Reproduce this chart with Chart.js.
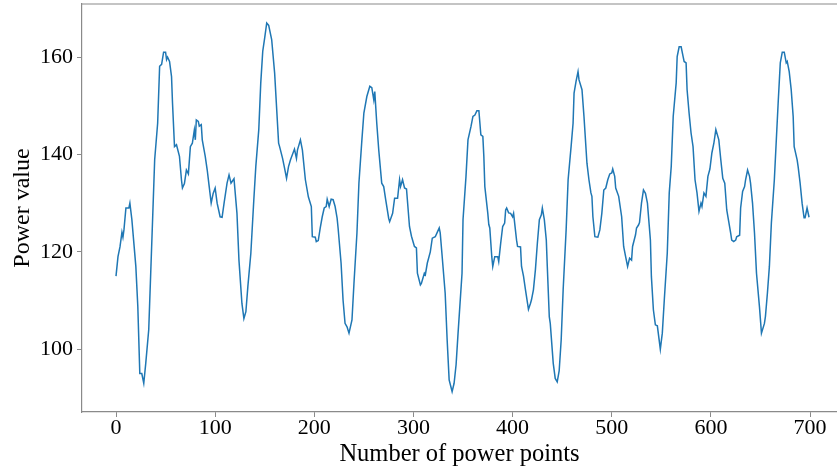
<!DOCTYPE html>
<html>
<head>
<meta charset="utf-8">
<title>Power value</title>
<script src="https://cdn.jsdelivr.net/npm/chart.js@4.4.1/dist/chart.umd.min.js"></script>
<style>
    html, body { margin: 0; padding: 0; background: #fff; }
    #wrap { width: 837px; height: 473px; }
</style>
</head>
<body>
<div id="wrap"><canvas id="powerChart"></canvas></div>
<script>
// values (point index -> power value)
const pointIdx = [
    0, 2, 4, 6, 7, 8, 10, 13, 14, 16, 20, 22, 24, 26, 28, 30, 33, 35, 37, 39,
    42, 44, 46, 48, 50, 51, 52, 54, 56, 57, 59, 61, 64, 66, 67, 69, 71, 73, 75, 77,
    79, 80, 81, 83, 84, 86, 87, 90, 92, 94, 96, 98, 100, 102, 105, 107, 109, 112, 114, 116,
    119, 122, 124, 127, 129, 131, 133, 136, 139, 141, 144, 146, 148, 150, 152, 154, 157, 160, 164, 165,
    168, 170, 172, 174, 176, 180, 182, 183, 186, 188, 191, 194, 197, 198, 201, 202, 204, 206, 208, 210,
    212, 213, 215, 217, 219, 221, 223, 224, 227, 229, 231, 233, 235, 238, 240, 243, 245, 248, 250, 253,
    256, 258, 260, 261, 263, 265, 268, 270, 272, 275, 276, 279, 281, 284, 286, 287, 289, 291, 293, 296,
    298, 301, 303, 304, 307, 308, 311, 312, 314, 317, 319, 322, 324, 326, 327, 329, 332, 334, 336, 339,
    341, 343, 345, 349, 350, 353, 355, 358, 360, 362, 364, 366, 368, 370, 371, 372, 375, 376, 377, 379,
    380, 382, 385, 386, 388, 390, 392, 393, 394, 396, 398, 400, 401, 404, 405, 408, 409, 411, 413, 416,
    418, 419, 421, 423, 425, 427, 429, 430, 432, 434, 435, 437, 438, 441, 443, 445, 447, 449, 451, 454,
    456, 459, 461, 462, 464, 466, 467, 470, 472, 475, 477, 479, 480, 481, 483, 486, 488, 490, 492, 494,
    496, 498, 500, 501, 503, 504, 507, 510, 512, 514, 516, 518, 520, 521, 524, 525, 527, 528, 530, 532,
    534, 536, 539, 540, 542, 544, 546, 549, 551, 553, 556, 558, 560, 562, 565, 566, 568, 570, 572, 573,
    575, 576, 578, 580, 582, 584, 586, 588, 590, 591, 593, 595, 597, 599, 601, 603, 605, 608, 610, 612,
    614, 616, 618, 620, 621, 623, 625, 626, 629, 630, 632, 634, 635, 637, 639, 640, 642, 644, 646, 649,
    651, 654, 655, 657, 659, 661, 664, 666, 668, 670, 672, 674, 676, 677, 679, 681, 683, 684, 687, 688,
    690, 692, 694, 695, 697, 699
];
const powerVals = [
    115, 119, 121, 124, 123, 124.5, 129, 129, 130, 126.6, 117, 108.7, 95, 95, 93, 97.1, 104, 115.6, 127.2, 138.9,
    146.4, 158.1, 158.5, 161, 161, 159.5, 160, 159.1, 156, 150.5, 141.6, 142, 139.6, 134.8, 133.1, 134, 136.8, 136, 141.6, 142.3,
    145, 143, 147.1, 146.8, 145.8, 146.1, 143, 139.6, 136.8, 133.4, 130, 132, 133.1, 130, 127.2, 127.1, 130, 134.1, 135.8, 134.1,
    135, 127.9, 118.3, 109.4, 106.3, 107.7, 112.9, 119.7, 130.7, 137.5, 145.1, 154.7, 161.2, 164, 167, 166.5, 163.6, 156.7, 142.3, 141.6,
    139.2, 137.2, 135.1, 137.5, 138.9, 141.1, 139.2, 140.9, 143, 140.9, 134.8, 131.3, 129.3, 123.1, 123, 122.1, 122.3, 124.9, 127.2, 129,
    129.3, 130.8, 129.3, 130.8, 130.7, 129.3, 126.9, 124.9, 117.7, 110.1, 105.3, 104.6, 103.3, 106, 113.5, 123.8, 134.1, 143, 148.5, 151.9,
    154, 153.7, 151.2, 152.9, 146.4, 140.9, 134.1, 133.4, 130.7, 126.9, 126.2, 127.9, 131, 131, 134.8, 133.4, 134.8, 133.1, 132.9, 125.2,
    123.2, 121.1, 120.8, 115.6, 113.2, 113.5, 115.6, 115.3, 117.7, 120, 122.8, 123.1, 124, 124.9, 123.9, 119, 111.5, 101.9, 93.7, 91.3,
    93, 96.8, 103.3, 115.6, 126.6, 135.5, 143, 145.7, 147.8, 148.1, 149, 149, 144, 143.7, 139.6, 133.4, 127.9, 125.6, 124.9, 119,
    117, 119, 119, 118, 121.8, 125.2, 125.9, 128.6, 129, 128, 127.9, 127.2, 127.9, 122.4, 121.1, 121, 117, 115, 112.2, 108.2,
    109.4, 110.1, 112.2, 116.3, 121.8, 126.6, 127.6, 129, 126.6, 122.4, 117, 106.7, 105.3, 97.1, 94, 93.3, 95.6, 101.9, 112.2, 124.5,
    134.8, 141.6, 146.4, 152.6, 155, 157, 155.3, 153.3, 147.8, 138.2, 134.8, 132.1, 131.4, 127.2, 123.1, 123, 124.5, 127.9, 132.7, 133.1,
    134.8, 136, 136.2, 137, 135.5, 133.1, 131.4, 127.2, 121.1, 119, 117, 118.7, 118.3, 121.1, 123.5, 124.9, 125.5, 126, 130, 132.7,
    132, 130, 122.4, 114.9, 108.1, 105, 104.8, 100, 103.3, 110.1, 119.7, 132.1, 137.5, 147.8, 154.7, 160.1, 162.1, 162.1, 160.1, 159.1,
    158.8, 153.3, 148.5, 144.4, 141.6, 134.8, 132.1, 128.3, 130, 129.3, 132.1, 131.4, 135.5, 137, 140.3, 142.3, 145.1, 143, 138.9, 135.1,
    134.1, 128.6, 126.2, 123.8, 122.4, 122.1, 122.4, 123.1, 123.4, 129, 132.4, 133.4, 134.8, 136.8, 135.5, 134.1, 130, 123.8, 115.6, 108.7,
    103.3, 105.3, 106.7, 111.5, 117, 125.9, 134.8, 143, 151.2, 158.8, 161, 161, 158.8, 159.1, 157, 153.3, 147.8, 141.6, 138.9, 137.5,
    134.1, 130, 127, 127, 129, 127.1
];
const xTickVals = [0, 100, 200, 300, 400, 500, 600, 700];
const yTickVals = [100, 120, 140, 160];

const axisGrey = '#8a8a8a';
const serif = '"Liberation Serif", "Times New Roman", serif';

// top edge of the axes frame (matplotlib box); right edge falls outside the canvas
const topFrame = {
    id: 'topFrame',
    afterDraw(chart) {
        const { ctx, chartArea } = chart;
        ctx.save();
        ctx.strokeStyle = axisGrey;
        ctx.lineWidth = 1.2;
        ctx.beginPath();
        ctx.moveTo(chartArea.left, chartArea.top);
        ctx.lineTo(chartArea.right, chartArea.top);
        ctx.stroke();
        ctx.restore();
    }
};

document.addEventListener('DOMContentLoaded', function() {
    const el = document.getElementById('powerChart');

    new Chart(el, {
        type: 'line',
        data: {
            datasets: [{
                label: 'Power value',
                data: pointIdx.map((x, i) => ({ x: x, y: powerVals[i] })),
                borderColor: '#1f77b4',
                borderWidth: 1.5,
                pointRadius: 0,
                tension: 0,
                fill: false
            }]
        },
        options: {
            responsive: true,
            maintainAspectRatio: false,
            animation: false,
            layout: { padding: { top: 4, right: 0, left: 0, bottom: 0 } },
            plugins: {
                legend: { display: false },
                tooltip: { enabled: false }
            },
            scales: {
                x: {
                    type: 'linear',
                    min: -34.3,
                    max: 727.2,
                    afterFit: function(scale) {
                        scale.height = 61;
                        scale.paddingLeft = 0;
                        scale.paddingRight = 0;
                    },
                    afterBuildTicks: function(scale) {
                        scale.ticks = xTickVals.map(v => ({ value: v }));
                    },
                    grid: {
                        drawOnChartArea: false,
                        drawTicks: true,
                        tickLength: 5,
                        tickColor: axisGrey
                    },
                    border: { display: true, color: axisGrey, width: 1.2 },
                    ticks: {
                        color: '#000',
                        padding: -2,
                        maxRotation: 0,
                        font: { family: serif, size: 22 }
                    },
                    title: {
                        display: true,
                        text: 'Number of power points',
                        color: '#000',
                        padding: { top: 0, bottom: 4 },
                        font: { family: serif, size: 24.5 }
                    }
                },
                y: {
                    min: 87.1,
                    max: 170.9,
                    afterFit: function(scale) {
                        scale.width = 82;
                        scale.paddingTop = 0;
                        scale.paddingBottom = 0;
                    },
                    afterBuildTicks: function(scale) {
                        scale.ticks = yTickVals.map(v => ({ value: v }));
                    },
                    grid: {
                        drawOnChartArea: false,
                        drawTicks: true,
                        tickLength: 5,
                        tickColor: axisGrey
                    },
                    border: { display: true, color: axisGrey, width: 1.2 },
                    ticks: {
                        color: '#000',
                        padding: 4,
                        font: { family: serif, size: 22 }
                    },
                    title: {
                        display: true,
                        text: 'Power value',
                        color: '#000',
                        padding: { top: 8, bottom: 0 },
                        font: { family: serif, size: 24 }
                    }
                }
            }
        },
        plugins: [topFrame]
    });
});
</script>
</body>
</html>
